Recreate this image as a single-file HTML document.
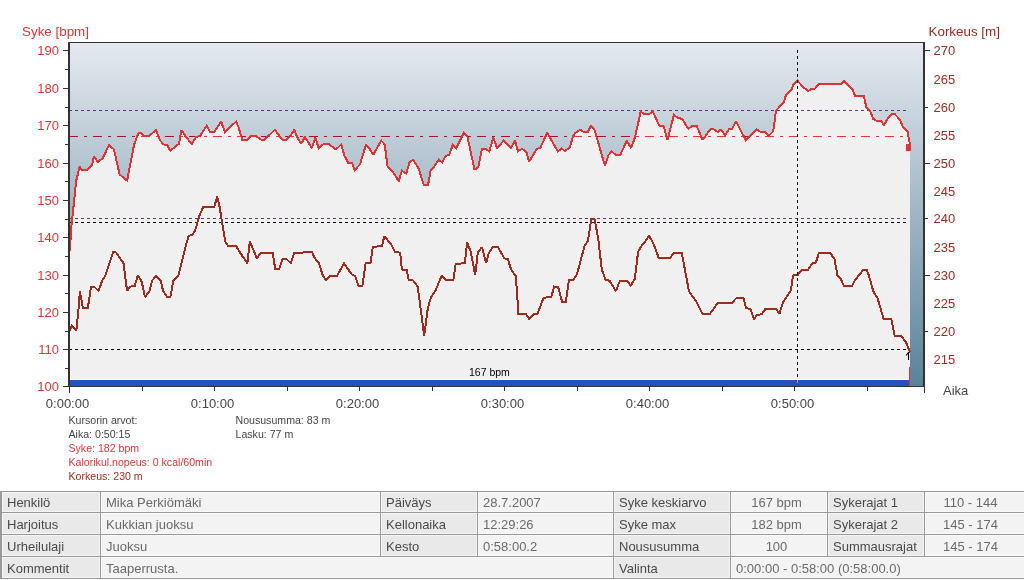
<!DOCTYPE html>
<html><head><meta charset="utf-8"><style>
html,body{margin:0;padding:0;background:#fff;width:1024px;height:580px;overflow:hidden}
body{position:relative;font-family:"Liberation Sans",sans-serif;font-size:13px}
svg{position:absolute;left:0;top:0;font-family:"Liberation Sans",sans-serif;will-change:transform}
#tb{will-change:transform}
</style></head><body>
<svg width="1024" height="490" viewBox="0 0 1024 490" shape-rendering="auto"><defs><linearGradient id="g" gradientUnits="userSpaceOnUse" x1="0" y1="42" x2="0" y2="386"><stop offset="0" stop-color="rgb(229, 233, 239)"/><stop offset="1" stop-color="rgb(89, 130, 154)"/></linearGradient><clipPath id="fc"><polygon points="69.85,251.30 71.40,225.80 74.20,200.20 76.10,181.25 79.60,166.90 82.10,170.00 87.10,170.00 92.10,165.00 94.00,156.20 97.75,161.90 102.75,158.10 109.00,145.00 114.00,149.40 119.60,174.40 127.10,180.60 134.00,145.00 138.40,133.10 141.50,133.10 144.00,135.60 149.60,135.60 155.90,130.00 160.25,140.60 163.40,144.40 167.10,145.00 170.25,150.60 179.00,143.75 181.50,130.00 185.90,136.90 191.75,144.00 196.10,136.90 199.90,136.25 206.75,125.60 210.25,132.25 214.00,132.25 221.10,121.50 224.90,131.90 236.10,121.50 238.60,127.50 242.40,140.00 246.75,140.00 251.10,136.25 256.10,136.25 261.75,140.00 264.25,140.00 274.90,129.75 282.40,140.00 286.10,140.00 290.50,135.60 294.25,129.75 296.75,136.25 301.10,144.00 304.90,136.90 311.90,148.10 315.25,137.50 318.75,148.10 323.10,144.40 329.40,144.40 334.40,148.50 336.90,148.50 341.25,144.40 344.40,155.60 348.10,162.50 351.90,162.50 354.75,170.00 360.00,164.40 366.00,144.40 370.00,149.40 373.10,155.00 381.25,140.60 384.75,144.40 387.50,166.25 392.50,171.25 398.75,181.25 401.90,170.60 406.25,173.75 409.40,162.50 413.10,159.75 418.75,168.75 423.75,185.00 428.10,185.00 430.60,170.60 434.00,166.90 438.75,159.75 442.10,162.25 445.90,155.60 449.00,155.25 452.75,145.00 456.25,148.10 464.00,132.75 467.50,136.90 474.60,170.00 478.40,166.25 482.10,148.50 485.25,148.50 489.25,151.25 493.40,137.50 497.10,148.10 503.75,140.60 510.90,148.10 515.00,140.60 518.00,151.25 522.10,148.75 526.50,152.50 529.00,161.90 536.75,148.75 540.25,148.10 547.10,132.75 550.90,139.40 557.75,151.25 561.75,148.50 564.90,151.25 569.90,147.25 573.00,136.25 575.50,132.75 580.25,129.75 584.25,132.25 587.75,131.90 591.10,125.60 594.50,129.75 604.90,165.60 608.60,155.00 611.75,151.50 615.75,155.00 620.25,155.00 626.75,140.60 631.10,148.10 634.90,137.50 640.75,111.50 644.90,114.40 649.00,114.40 652.75,111.25 659.25,125.60 663.60,126.00 667.40,140.00 674.00,114.75 678.00,118.10 682.00,118.75 688.25,128.75 692.60,125.60 696.75,126.00 702.60,140.00 710.10,129.40 713.90,129.40 717.60,131.90 721.00,129.75 725.10,135.00 728.90,129.40 732.00,128.75 736.00,121.25 745.75,140.00 757.00,129.40 760.75,131.90 765.10,132.25 768.90,135.60 773.25,131.25 776.00,110.60 783.90,102.25 785.75,95.60 791.40,90.00 793.25,84.75 797.25,80.60 803.75,87.50 808.10,91.00 811.90,88.50 815.00,88.50 818.75,84.40 841.25,84.40 844.00,80.60 852.50,89.40 855.00,95.60 863.75,95.60 866.25,106.90 870.00,110.60 873.10,118.75 877.50,121.25 881.25,121.25 884.00,125.00 888.75,116.90 891.25,114.40 895.00,114.40 900.00,119.75 902.50,126.25 907.50,131.25 909.60,142.75 910.00,142.75 910.00,386.00 70.00,386.00"/></clipPath></defs><rect x="70" y="43" width="853" height="343" fill="url(#g)"/><line x1="69" y1="136.5" x2="904" y2="136.5" stroke="#a01428" stroke-width="1" stroke-dasharray="9,6,3,6"/><line x1="69" y1="110.5" x2="906" y2="110.5" stroke="#6a3282" stroke-width="1" stroke-dasharray="3,3"/><polygon points="69.85,251.30 71.40,225.80 74.20,200.20 76.10,181.25 79.60,166.90 82.10,170.00 87.10,170.00 92.10,165.00 94.00,156.20 97.75,161.90 102.75,158.10 109.00,145.00 114.00,149.40 119.60,174.40 127.10,180.60 134.00,145.00 138.40,133.10 141.50,133.10 144.00,135.60 149.60,135.60 155.90,130.00 160.25,140.60 163.40,144.40 167.10,145.00 170.25,150.60 179.00,143.75 181.50,130.00 185.90,136.90 191.75,144.00 196.10,136.90 199.90,136.25 206.75,125.60 210.25,132.25 214.00,132.25 221.10,121.50 224.90,131.90 236.10,121.50 238.60,127.50 242.40,140.00 246.75,140.00 251.10,136.25 256.10,136.25 261.75,140.00 264.25,140.00 274.90,129.75 282.40,140.00 286.10,140.00 290.50,135.60 294.25,129.75 296.75,136.25 301.10,144.00 304.90,136.90 311.90,148.10 315.25,137.50 318.75,148.10 323.10,144.40 329.40,144.40 334.40,148.50 336.90,148.50 341.25,144.40 344.40,155.60 348.10,162.50 351.90,162.50 354.75,170.00 360.00,164.40 366.00,144.40 370.00,149.40 373.10,155.00 381.25,140.60 384.75,144.40 387.50,166.25 392.50,171.25 398.75,181.25 401.90,170.60 406.25,173.75 409.40,162.50 413.10,159.75 418.75,168.75 423.75,185.00 428.10,185.00 430.60,170.60 434.00,166.90 438.75,159.75 442.10,162.25 445.90,155.60 449.00,155.25 452.75,145.00 456.25,148.10 464.00,132.75 467.50,136.90 474.60,170.00 478.40,166.25 482.10,148.50 485.25,148.50 489.25,151.25 493.40,137.50 497.10,148.10 503.75,140.60 510.90,148.10 515.00,140.60 518.00,151.25 522.10,148.75 526.50,152.50 529.00,161.90 536.75,148.75 540.25,148.10 547.10,132.75 550.90,139.40 557.75,151.25 561.75,148.50 564.90,151.25 569.90,147.25 573.00,136.25 575.50,132.75 580.25,129.75 584.25,132.25 587.75,131.90 591.10,125.60 594.50,129.75 604.90,165.60 608.60,155.00 611.75,151.50 615.75,155.00 620.25,155.00 626.75,140.60 631.10,148.10 634.90,137.50 640.75,111.50 644.90,114.40 649.00,114.40 652.75,111.25 659.25,125.60 663.60,126.00 667.40,140.00 674.00,114.75 678.00,118.10 682.00,118.75 688.25,128.75 692.60,125.60 696.75,126.00 702.60,140.00 710.10,129.40 713.90,129.40 717.60,131.90 721.00,129.75 725.10,135.00 728.90,129.40 732.00,128.75 736.00,121.25 745.75,140.00 757.00,129.40 760.75,131.90 765.10,132.25 768.90,135.60 773.25,131.25 776.00,110.60 783.90,102.25 785.75,95.60 791.40,90.00 793.25,84.75 797.25,80.60 803.75,87.50 808.10,91.00 811.90,88.50 815.00,88.50 818.75,84.40 841.25,84.40 844.00,80.60 852.50,89.40 855.00,95.60 863.75,95.60 866.25,106.90 870.00,110.60 873.10,118.75 877.50,121.25 881.25,121.25 884.00,125.00 888.75,116.90 891.25,114.40 895.00,114.40 900.00,119.75 902.50,126.25 907.50,131.25 909.60,142.75 910.00,142.75 910.00,386.00 70.00,386.00" fill="#f0f0f0"/><g clip-path="url(#fc)"><line x1="69" y1="136.5" x2="904" y2="136.5" stroke="#e03434" stroke-width="1" stroke-dasharray="9,6,3,6"/><line x1="69" y1="110.5" x2="906" y2="110.5" stroke="#6a3282" stroke-width="1" stroke-dasharray="3,3"/></g><line x1="69" y1="218.5" x2="906" y2="218.5" stroke="#6a3282" stroke-width="1" stroke-dasharray="3,3"/><line x1="69" y1="222.5" x2="909" y2="222.5" stroke="#000" stroke-width="1" stroke-dasharray="3,3"/><line x1="69" y1="349.5" x2="909" y2="349.5" stroke="#000" stroke-width="1" stroke-dasharray="3,3"/><rect x="70" y="379" width="840" height="1" fill="#fdfaf0"/><rect x="70" y="380" width="840" height="6" fill="#2452c0"/><rect x="797" y="380" width="1" height="3" fill="#f08060"/><polyline points="69.50,331.00 72.00,325.50 76.40,330.30 78.30,311.60 79.90,291.30 83.00,308.40 87.80,308.40 91.00,286.60 94.10,286.60 98.60,291.00 102.10,280.70 105.60,275.10 113.20,252.10 116.30,252.60 123.50,263.20 127.10,291.00 129.80,286.60 134.60,286.20 137.75,275.50 141.70,281.50 144.90,297.00 149.60,291.00 152.00,280.70 156.00,275.90 160.75,280.70 163.10,291.00 167.10,297.00 170.30,297.00 173.40,280.70 178.50,275.10 185.60,246.30 188.70,235.70 192.40,235.20 195.10,230.40 199.80,214.60 203.00,207.40 214.10,207.10 217.30,196.70 219.70,207.40 225.20,241.50 228.40,246.30 236.30,246.30 241.10,254.20 247.40,263.30 249.80,241.50 256.90,258.20 260.90,252.60 272.80,252.60 275.20,269.30 279.10,269.30 282.80,258.50 285.90,258.50 290.70,263.00 294.50,252.60 312.10,252.40 314.70,258.10 319.00,263.30 322.40,274.50 325.90,280.20 330.20,275.70 337.10,275.70 344.00,263.30 351.75,274.50 355.20,275.90 358.65,286.20 362.40,286.20 365.55,263.30 370.40,263.30 372.80,246.90 382.00,246.00 384.30,236.20 391.50,244.80 395.00,252.30 400.15,252.60 401.90,269.50 406.70,270.20 408.80,280.20 413.10,280.50 417.75,286.80 424.20,335.70 427.75,308.70 430.85,297.50 435.50,290.60 441.55,275.90 446.40,280.20 453.30,280.20 455.70,263.80 464.80,263.30 467.10,242.25 470.50,250.90 475.20,275.00 477.80,252.60 482.10,247.10 486.10,263.00 489.00,252.60 493.30,246.60 497.60,246.60 504.30,258.30 507.80,259.20 511.20,269.50 515.85,276.20 516.70,288.60 517.70,302.10 517.90,314.00 526.00,314.30 528.90,318.80 533.20,314.50 537.40,314.30 543.60,297.70 551.30,297.10 554.10,286.50 558.00,286.75 562.20,302.10 565.80,301.90 568.90,280.30 573.00,280.10 576.80,274.70 584.50,246.20 588.00,240.70 591.40,218.60 594.50,218.60 598.30,239.30 601.80,269.50 605.60,279.90 609.50,280.70 615.90,291.10 619.90,280.70 626.90,280.50 630.70,285.70 634.70,279.30 638.10,251.70 641.60,245.70 645.00,241.90 649.00,235.70 653.60,244.00 658.80,258.10 670.00,258.10 673.80,252.60 681.75,252.60 689.00,291.40 695.90,300.90 702.50,313.80 710.00,313.80 718.00,302.60 732.10,302.60 737.00,297.50 743.30,297.50 746.00,308.30 750.35,308.80 753.80,319.20 757.25,314.70 761.60,314.35 765.50,308.80 776.20,308.80 779.30,314.00 783.10,302.30 790.90,290.50 793.10,275.50 797.80,275.00 801.75,269.50 808.10,269.50 812.10,263.50 815.90,262.60 819.00,252.60 830.00,252.60 834.50,259.15 837.50,275.50 840.90,279.00 843.85,285.90 852.10,285.90 855.20,279.85 863.50,269.60 866.60,269.70 869.00,275.80 873.30,291.30 877.60,298.20 883.60,318.90 891.40,319.20 894.80,336.10 901.70,336.50 906.00,342.20 910.00,352.50" fill="none" stroke="#a02a1c" stroke-width="2" stroke-linejoin="miter" stroke-miterlimit="2" shape-rendering="crispEdges"/><polyline points="69.85,251.30 71.40,225.80 74.20,200.20 76.10,181.25 79.60,166.90 82.10,170.00 87.10,170.00 92.10,165.00 94.00,156.20 97.75,161.90 102.75,158.10 109.00,145.00 114.00,149.40 119.60,174.40 127.10,180.60 134.00,145.00 138.40,133.10 141.50,133.10 144.00,135.60 149.60,135.60 155.90,130.00 160.25,140.60 163.40,144.40 167.10,145.00 170.25,150.60 179.00,143.75 181.50,130.00 185.90,136.90 191.75,144.00 196.10,136.90 199.90,136.25 206.75,125.60 210.25,132.25 214.00,132.25 221.10,121.50 224.90,131.90 236.10,121.50 238.60,127.50 242.40,140.00 246.75,140.00 251.10,136.25 256.10,136.25 261.75,140.00 264.25,140.00 274.90,129.75 282.40,140.00 286.10,140.00 290.50,135.60 294.25,129.75 296.75,136.25 301.10,144.00 304.90,136.90 311.90,148.10 315.25,137.50 318.75,148.10 323.10,144.40 329.40,144.40 334.40,148.50 336.90,148.50 341.25,144.40 344.40,155.60 348.10,162.50 351.90,162.50 354.75,170.00 360.00,164.40 366.00,144.40 370.00,149.40 373.10,155.00 381.25,140.60 384.75,144.40 387.50,166.25 392.50,171.25 398.75,181.25 401.90,170.60 406.25,173.75 409.40,162.50 413.10,159.75 418.75,168.75 423.75,185.00 428.10,185.00 430.60,170.60 434.00,166.90 438.75,159.75 442.10,162.25 445.90,155.60 449.00,155.25 452.75,145.00 456.25,148.10 464.00,132.75 467.50,136.90 474.60,170.00 478.40,166.25 482.10,148.50 485.25,148.50 489.25,151.25 493.40,137.50 497.10,148.10 503.75,140.60 510.90,148.10 515.00,140.60 518.00,151.25 522.10,148.75 526.50,152.50 529.00,161.90 536.75,148.75 540.25,148.10 547.10,132.75 550.90,139.40 557.75,151.25 561.75,148.50 564.90,151.25 569.90,147.25 573.00,136.25 575.50,132.75 580.25,129.75 584.25,132.25 587.75,131.90 591.10,125.60 594.50,129.75 604.90,165.60 608.60,155.00 611.75,151.50 615.75,155.00 620.25,155.00 626.75,140.60 631.10,148.10 634.90,137.50 640.75,111.50 644.90,114.40 649.00,114.40 652.75,111.25 659.25,125.60 663.60,126.00 667.40,140.00 674.00,114.75 678.00,118.10 682.00,118.75 688.25,128.75 692.60,125.60 696.75,126.00 702.60,140.00 710.10,129.40 713.90,129.40 717.60,131.90 721.00,129.75 725.10,135.00 728.90,129.40 732.00,128.75 736.00,121.25 745.75,140.00 757.00,129.40 760.75,131.90 765.10,132.25 768.90,135.60 773.25,131.25 776.00,110.60 783.90,102.25 785.75,95.60 791.40,90.00 793.25,84.75 797.25,80.60 803.75,87.50 808.10,91.00 811.90,88.50 815.00,88.50 818.75,84.40 841.25,84.40 844.00,80.60 852.50,89.40 855.00,95.60 863.75,95.60 866.25,106.90 870.00,110.60 873.10,118.75 877.50,121.25 881.25,121.25 884.00,125.00 888.75,116.90 891.25,114.40 895.00,114.40 900.00,119.75 902.50,126.25 907.50,131.25 909.60,142.75 909.50,150.00" fill="none" stroke="#e03434" stroke-width="2" stroke-linejoin="miter" stroke-miterlimit="2" shape-rendering="crispEdges"/><rect x="906" y="144" width="5" height="7" fill="#e03434"/><rect x="909" y="367" width="1" height="19" fill="#e03434"/><line x1="797.5" y1="50" x2="797.5" y2="380" stroke="#111" stroke-width="1" stroke-dasharray="3,3"/><path d="M908.5,352 L908.5,360 M906,355.5 L908.5,352.5" stroke="#000" stroke-width="1.1" fill="none"/><rect x="68" y="42" width="857" height="1" fill="#333"/><rect x="68" y="42" width="2" height="345" fill="#333"/><rect x="923" y="42" width="2" height="345" fill="#333"/><rect x="68" y="386" width="857" height="1" fill="#333"/><rect x="63" y="386" width="5" height="1" fill="#333"/><text x="59" y="391" text-anchor="end" font-size="13" fill="#e03434">100</text><rect x="65" y="368" width="3" height="1" fill="#333"/><rect x="63" y="349" width="5" height="1" fill="#333"/><text x="59" y="354" text-anchor="end" font-size="13" fill="#e03434">110</text><rect x="65" y="331" width="3" height="1" fill="#333"/><rect x="63" y="312" width="5" height="1" fill="#333"/><text x="59" y="317" text-anchor="end" font-size="13" fill="#e03434">120</text><rect x="65" y="293" width="3" height="1" fill="#333"/><rect x="63" y="275" width="5" height="1" fill="#333"/><text x="59" y="280" text-anchor="end" font-size="13" fill="#e03434">130</text><rect x="65" y="256" width="3" height="1" fill="#333"/><rect x="63" y="237" width="5" height="1" fill="#333"/><text x="59" y="242" text-anchor="end" font-size="13" fill="#e03434">140</text><rect x="65" y="219" width="3" height="1" fill="#333"/><rect x="63" y="200" width="5" height="1" fill="#333"/><text x="59" y="205" text-anchor="end" font-size="13" fill="#e03434">150</text><rect x="65" y="181" width="3" height="1" fill="#333"/><rect x="63" y="163" width="5" height="1" fill="#333"/><text x="59" y="168" text-anchor="end" font-size="13" fill="#e03434">160</text><rect x="65" y="144" width="3" height="1" fill="#333"/><rect x="63" y="125" width="5" height="1" fill="#333"/><text x="59" y="130" text-anchor="end" font-size="13" fill="#e03434">170</text><rect x="65" y="107" width="3" height="1" fill="#333"/><rect x="63" y="88" width="5" height="1" fill="#333"/><text x="59" y="93" text-anchor="end" font-size="13" fill="#e03434">180</text><rect x="65" y="69" width="3" height="1" fill="#333"/><rect x="63" y="50" width="5" height="1" fill="#333"/><text x="59" y="55" text-anchor="end" font-size="13" fill="#e03434">190</text><text x="933.5" y="364" font-size="13" fill="#a02a1c">215</text><rect x="925" y="331" width="3" height="1" fill="#333"/><text x="933.5" y="336" font-size="13" fill="#a02a1c">220</text><text x="933.5" y="308" font-size="13" fill="#a02a1c">225</text><rect x="925" y="275" width="5" height="1" fill="#333"/><text x="933.5" y="280" font-size="13" fill="#a02a1c">230</text><text x="933.5" y="252" font-size="13" fill="#a02a1c">235</text><rect x="925" y="218" width="3" height="1" fill="#333"/><text x="933.5" y="223" font-size="13" fill="#a02a1c">240</text><text x="933.5" y="196" font-size="13" fill="#a02a1c">245</text><rect x="925" y="163" width="5" height="1" fill="#333"/><text x="933.5" y="168" font-size="13" fill="#a02a1c">250</text><text x="933.5" y="140" font-size="13" fill="#a02a1c">255</text><rect x="925" y="107" width="3" height="1" fill="#333"/><text x="933.5" y="112" font-size="13" fill="#a02a1c">260</text><text x="933.5" y="84" font-size="13" fill="#a02a1c">265</text><rect x="925" y="50" width="5" height="1" fill="#333"/><text x="933.5" y="55" font-size="13" fill="#a02a1c">270</text><rect x="69" y="387" width="1" height="4" fill="#333"/><rect x="142" y="387" width="1" height="4" fill="#333"/><rect x="214" y="387" width="1" height="4" fill="#333"/><rect x="287" y="387" width="1" height="4" fill="#333"/><rect x="359" y="387" width="1" height="4" fill="#333"/><rect x="432" y="387" width="1" height="4" fill="#333"/><rect x="504" y="387" width="1" height="4" fill="#333"/><rect x="577" y="387" width="1" height="4" fill="#333"/><rect x="649" y="387" width="1" height="4" fill="#333"/><rect x="722" y="387" width="1" height="4" fill="#333"/><rect x="794" y="387" width="1" height="4" fill="#333"/><rect x="867" y="387" width="1" height="4" fill="#333"/><rect x="924" y="387" width="1" height="6" fill="#333"/><rect x="69" y="387" width="1" height="6" fill="#333"/><text x="67.5" y="408" text-anchor="middle" font-size="13" fill="#444">0:00:00</text><text x="212.5" y="408" text-anchor="middle" font-size="13" fill="#444">0:10:00</text><text x="357.5" y="408" text-anchor="middle" font-size="13" fill="#444">0:20:00</text><text x="502.5" y="408" text-anchor="middle" font-size="13" fill="#444">0:30:00</text><text x="647.5" y="408" text-anchor="middle" font-size="13" fill="#444">0:40:00</text><text x="792.5" y="408" text-anchor="middle" font-size="13" fill="#444">0:50:00</text><text x="943" y="395" font-size="13" fill="#444">Aika</text><text x="22" y="36" font-size="13.4" fill="#e03434">Syke [bpm]</text><text x="928.5" y="36" font-size="13.4" fill="#a02a1c">Korkeus [m]</text><text x="469" y="376" font-size="10.5" fill="#000">167 bpm</text><text x="68.5" y="424" font-size="10.6" fill="#444">Kursorin arvot:</text><text x="68.5" y="438" font-size="10.6" fill="#444">Aika: 0:50:15</text><text x="68.5" y="452" font-size="10.6" fill="#e03434">Syke: 182 bpm</text><text x="68.5" y="466" font-size="10.6" fill="#e03434">Kalorikul.nopeus: 0 kcal/60min</text><text x="68.5" y="480" font-size="10.6" fill="#a02a1c">Korkeus: 230 m</text><text x="235.5" y="424" font-size="10.6" fill="#444">Noususumma: 83 m</text><text x="235.5" y="438" font-size="10.6" fill="#444">Lasku: 77 m</text></svg>
<div id="tb" style="position:absolute;left:0;top:0;width:1024px;height:580px"><div style="position:absolute;left:0;top:491px;width:1024px;height:88px;background:#999"></div><div style="position:absolute;left:2px;top:492px;width:98px;height:20px;background:#e9e9e9;color:#4a4a4a;box-shadow:inset 0 0 0 1px rgba(255,255,255,0.55)"><span style="position:absolute;left:5px;top:3px;line-height:15px;white-space:nowrap">Henkilö</span></div><div style="position:absolute;left:101px;top:492px;width:279px;height:20px;background:#f3f3f3;color:#6a6a6a;box-shadow:inset 0 0 0 1px rgba(255,255,255,0.55)"><span style="position:absolute;left:5px;top:3px;line-height:15px;white-space:nowrap">Mika Perkiömäki</span></div><div style="position:absolute;left:381px;top:492px;width:96px;height:20px;background:#e9e9e9;color:#4a4a4a;box-shadow:inset 0 0 0 1px rgba(255,255,255,0.55)"><span style="position:absolute;left:5px;top:3px;line-height:15px;white-space:nowrap">Päiväys</span></div><div style="position:absolute;left:478px;top:492px;width:135px;height:20px;background:#f3f3f3;color:#6a6a6a;box-shadow:inset 0 0 0 1px rgba(255,255,255,0.55)"><span style="position:absolute;left:5px;top:3px;line-height:15px;white-space:nowrap">28.7.2007</span></div><div style="position:absolute;left:614px;top:492px;width:116px;height:20px;background:#e9e9e9;color:#4a4a4a;box-shadow:inset 0 0 0 1px rgba(255,255,255,0.55)"><span style="position:absolute;left:5px;top:3px;line-height:15px;white-space:nowrap">Syke keskiarvo</span></div><div style="position:absolute;left:731px;top:492px;width:96px;height:20px;background:#f3f3f3;color:#6a6a6a;box-shadow:inset 0 0 0 1px rgba(255,255,255,0.55)"><span style="position:absolute;left:-14.5px;width:120px;text-align:center;top:3px;line-height:15px">167 bpm</span></div><div style="position:absolute;left:828px;top:492px;width:96px;height:20px;background:#e9e9e9;color:#4a4a4a;box-shadow:inset 0 0 0 1px rgba(255,255,255,0.55)"><span style="position:absolute;left:5px;top:3px;line-height:15px;white-space:nowrap">Sykerajat 1</span></div><div style="position:absolute;left:925px;top:492px;width:105px;height:20px;background:#f3f3f3;color:#6a6a6a;box-shadow:inset 0 0 0 1px rgba(255,255,255,0.55)"><span style="position:absolute;left:-14.5px;width:120px;text-align:center;top:3px;line-height:15px">110 - 144</span></div><div style="position:absolute;left:2px;top:513px;width:98px;height:21px;background:#e9e9e9;color:#4a4a4a;box-shadow:inset 0 0 0 1px rgba(255,255,255,0.55)"><span style="position:absolute;left:5px;top:4px;line-height:15px;white-space:nowrap">Harjoitus</span></div><div style="position:absolute;left:101px;top:513px;width:279px;height:21px;background:#f3f3f3;color:#6a6a6a;box-shadow:inset 0 0 0 1px rgba(255,255,255,0.55)"><span style="position:absolute;left:5px;top:4px;line-height:15px;white-space:nowrap">Kukkian juoksu</span></div><div style="position:absolute;left:381px;top:513px;width:96px;height:21px;background:#e9e9e9;color:#4a4a4a;box-shadow:inset 0 0 0 1px rgba(255,255,255,0.55)"><span style="position:absolute;left:5px;top:4px;line-height:15px;white-space:nowrap">Kellonaika</span></div><div style="position:absolute;left:478px;top:513px;width:135px;height:21px;background:#f3f3f3;color:#6a6a6a;box-shadow:inset 0 0 0 1px rgba(255,255,255,0.55)"><span style="position:absolute;left:5px;top:4px;line-height:15px;white-space:nowrap">12:29:26</span></div><div style="position:absolute;left:614px;top:513px;width:116px;height:21px;background:#e9e9e9;color:#4a4a4a;box-shadow:inset 0 0 0 1px rgba(255,255,255,0.55)"><span style="position:absolute;left:5px;top:4px;line-height:15px;white-space:nowrap">Syke max</span></div><div style="position:absolute;left:731px;top:513px;width:96px;height:21px;background:#f3f3f3;color:#6a6a6a;box-shadow:inset 0 0 0 1px rgba(255,255,255,0.55)"><span style="position:absolute;left:-14.5px;width:120px;text-align:center;top:4px;line-height:15px">182 bpm</span></div><div style="position:absolute;left:828px;top:513px;width:96px;height:21px;background:#e9e9e9;color:#4a4a4a;box-shadow:inset 0 0 0 1px rgba(255,255,255,0.55)"><span style="position:absolute;left:5px;top:4px;line-height:15px;white-space:nowrap">Sykerajat 2</span></div><div style="position:absolute;left:925px;top:513px;width:105px;height:21px;background:#f3f3f3;color:#6a6a6a;box-shadow:inset 0 0 0 1px rgba(255,255,255,0.55)"><span style="position:absolute;left:-14.5px;width:120px;text-align:center;top:4px;line-height:15px">145 - 174</span></div><div style="position:absolute;left:2px;top:535px;width:98px;height:21px;background:#e9e9e9;color:#4a4a4a;box-shadow:inset 0 0 0 1px rgba(255,255,255,0.55)"><span style="position:absolute;left:5px;top:4px;line-height:15px;white-space:nowrap">Urheilulaji</span></div><div style="position:absolute;left:101px;top:535px;width:279px;height:21px;background:#f3f3f3;color:#6a6a6a;box-shadow:inset 0 0 0 1px rgba(255,255,255,0.55)"><span style="position:absolute;left:5px;top:4px;line-height:15px;white-space:nowrap">Juoksu</span></div><div style="position:absolute;left:381px;top:535px;width:96px;height:21px;background:#e9e9e9;color:#4a4a4a;box-shadow:inset 0 0 0 1px rgba(255,255,255,0.55)"><span style="position:absolute;left:5px;top:4px;line-height:15px;white-space:nowrap">Kesto</span></div><div style="position:absolute;left:478px;top:535px;width:135px;height:21px;background:#f3f3f3;color:#6a6a6a;box-shadow:inset 0 0 0 1px rgba(255,255,255,0.55)"><span style="position:absolute;left:5px;top:4px;line-height:15px;white-space:nowrap">0:58:00.2</span></div><div style="position:absolute;left:614px;top:535px;width:116px;height:21px;background:#e9e9e9;color:#4a4a4a;box-shadow:inset 0 0 0 1px rgba(255,255,255,0.55)"><span style="position:absolute;left:5px;top:4px;line-height:15px;white-space:nowrap">Noususumma</span></div><div style="position:absolute;left:731px;top:535px;width:96px;height:21px;background:#f3f3f3;color:#6a6a6a;box-shadow:inset 0 0 0 1px rgba(255,255,255,0.55)"><span style="position:absolute;left:-14.5px;width:120px;text-align:center;top:4px;line-height:15px">100</span></div><div style="position:absolute;left:828px;top:535px;width:96px;height:21px;background:#e9e9e9;color:#4a4a4a;box-shadow:inset 0 0 0 1px rgba(255,255,255,0.55)"><span style="position:absolute;left:5px;top:4px;line-height:15px;white-space:nowrap">Summausrajat</span></div><div style="position:absolute;left:925px;top:535px;width:105px;height:21px;background:#f3f3f3;color:#6a6a6a;box-shadow:inset 0 0 0 1px rgba(255,255,255,0.55)"><span style="position:absolute;left:-14.5px;width:120px;text-align:center;top:4px;line-height:15px">145 - 174</span></div><div style="position:absolute;left:2px;top:557px;width:98px;height:21px;background:#e9e9e9;color:#4a4a4a;box-shadow:inset 0 0 0 1px rgba(255,255,255,0.55)"><span style="position:absolute;left:5px;top:4px;line-height:15px;white-space:nowrap">Kommentit</span></div><div style="position:absolute;left:101px;top:557px;width:512px;height:21px;background:#f3f3f3;color:#6a6a6a;box-shadow:inset 0 0 0 1px rgba(255,255,255,0.55)"><span style="position:absolute;left:5px;top:4px;line-height:15px;white-space:nowrap">Taaperrusta.</span></div><div style="position:absolute;left:614px;top:557px;width:116px;height:21px;background:#e9e9e9;color:#4a4a4a;box-shadow:inset 0 0 0 1px rgba(255,255,255,0.55)"><span style="position:absolute;left:5px;top:4px;line-height:15px;white-space:nowrap">Valinta</span></div><div style="position:absolute;left:731px;top:557px;width:299px;height:21px;background:#f3f3f3;color:#6a6a6a;box-shadow:inset 0 0 0 1px rgba(255,255,255,0.55)"><span style="position:absolute;left:5px;top:4px;line-height:15px;white-space:nowrap">0:00:00 - 0:58:00 (0:58:00.0)</span></div><div style="position:absolute;left:0;top:491px;width:1024px;height:1px;background:#999"></div><div style="position:absolute;left:0;top:512px;width:1024px;height:1px;background:#999"></div><div style="position:absolute;left:0;top:534px;width:1024px;height:1px;background:#999"></div><div style="position:absolute;left:0;top:556px;width:1024px;height:1px;background:#999"></div><div style="position:absolute;left:0;top:578px;width:1024px;height:1px;background:#999"></div></div>
</body></html>
